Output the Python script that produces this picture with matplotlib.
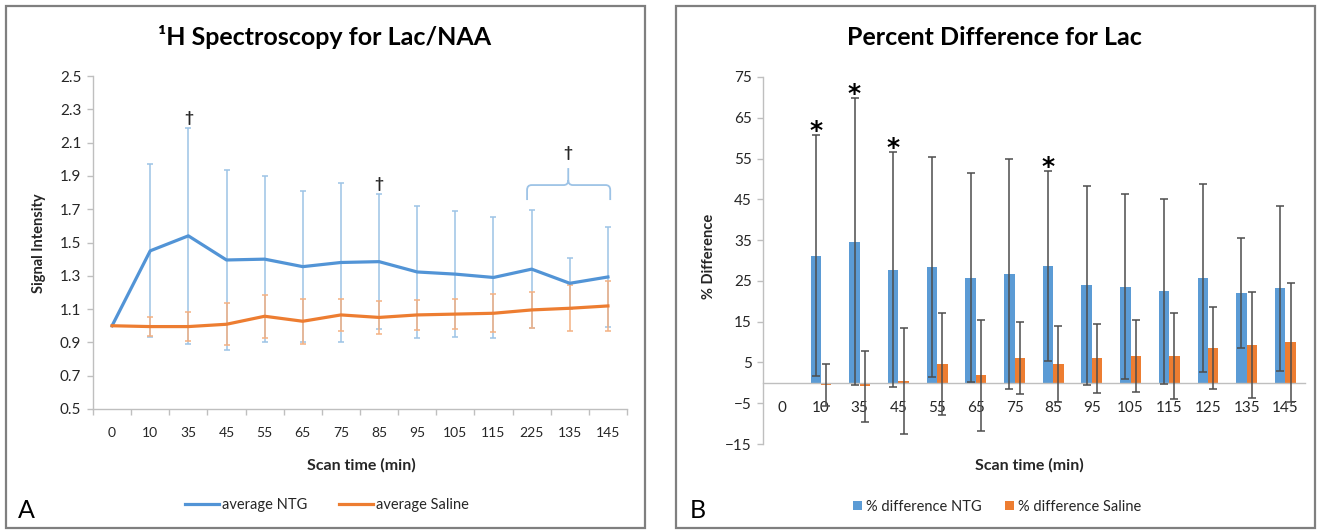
import matplotlib
matplotlib.use("Agg")
import matplotlib.pyplot as plt
import numpy as np
from matplotlib.patches import Rectangle, PathPatch
from matplotlib.path import Path

plt.rcParams['font.family'] = ['Lato', 'DejaVu Sans']

# scan times as printed on each category axis
scan_times_a = ['0', '10', '35', '45', '55', '65', '75', '85', '95', '105', '115', '225', '135', '145']
scan_times_b = ['0', '10', '35', '45', '55', '65', '75', '85', '95', '105', '115', '125', '135', '145']

# Lac/NAA signal intensity (mean and SD)
ntg_avg = [1.0, 1.45, 1.54, 1.395, 1.40, 1.355, 1.38, 1.385, 1.323, 1.31, 1.29, 1.34, 1.255, 1.293]
ntg_sd = [0.0, 0.52, 0.65, 0.54, 0.50, 0.455, 0.48, 0.405, 0.397, 0.38, 0.365, 0.356, 0.152, 0.30]
saline_avg = [1.0, 0.995, 0.995, 1.009, 1.057, 1.027, 1.065, 1.05, 1.065, 1.07, 1.075, 1.095, 1.105, 1.119]
saline_sd = [0.0, 0.055, 0.087, 0.127, 0.13, 0.135, 0.095, 0.098, 0.09, 0.092, 0.113, 0.107, 0.137, 0.15]

# percent difference for Lac (mean and SD)
ntg_pct = [0, 31.2, 34.6, 27.7, 28.5, 25.8, 26.6, 28.7, 23.9, 23.6, 22.4, 25.7, 22.0, 23.2]
ntg_pct_sd = [0, 29.6, 35.2, 28.8, 27.0, 25.7, 28.2, 23.3, 24.4, 22.7, 22.6, 23.0, 13.4, 20.2]
saline_pct = [0, -0.5, -0.8, 0.4, 4.6, 1.8, 6.0, 4.6, 6.0, 6.6, 6.6, 8.5, 9.3, 9.9]
saline_pct_sd = [0, 5.1, 8.7, 13.0, 12.6, 13.6, 8.8, 9.4, 8.4, 8.8, 10.6, 10.0, 12.9, 14.5]

# significance marks
dagger_idx = [2, 7]
star_idx = [1, 2, 3, 7]

BLUE = '#5294D6'
ORANGE = '#ED7D31'
BLUE_ERR = '#9DC3E6'
ORANGE_ERR = '#F4B183'
AXIS = '#BFBFBF'
TXT = '#262626'

W, H = 1321, 531
fig = plt.figure(figsize=(W / 100, H / 100), dpi=100)


def fx(px):
    return px / W


def fy(py):
    return 1 - py / H


# panel frames
for x0, x1 in [(6, 645), (676, 1315)]:
    fig.patches.append(Rectangle((fx(x0), fy(528)), fx(x1 - x0), (528 - 6) / H,
                                 transform=fig.transFigure, fill=False,
                                 edgecolor='#7F7F7F', lw=1.6))

x = np.arange(len(scan_times_a))

# ---------- A: Lac/NAA ----------
ax1 = fig.add_axes([fx(93), fy(409), fx(534), 333 / H])
ax1.errorbar(x[1:], ntg_avg[1:], yerr=ntg_sd[1:], fmt='none', ecolor=BLUE_ERR,
             elinewidth=1.1, capsize=2.5, capthick=1.1, zorder=2)
ax1.errorbar(x[1:], saline_avg[1:], yerr=saline_sd[1:], fmt='none', ecolor=ORANGE_ERR,
             elinewidth=1.1, capsize=2.5, capthick=1.1, zorder=2)
ax1.plot(x, ntg_avg, color=BLUE, lw=2.3, label='average NTG', zorder=3)
ax1.plot(x, saline_avg, color=ORANGE, lw=2.3, label='average Saline', zorder=3)

ax1.set_xlim(-0.5, len(x) - 0.5)
ax1.set_ylim(0.5, 2.5)
ax1.set_yticks(np.arange(0.5, 2.51, 0.2))
ax1.set_yticklabels(['%.1f' % v for v in np.arange(0.5, 2.51, 0.2)])
ax1.set_xticks(x)
ax1.set_xticklabels(scan_times_a)
ax1.set_xticks(np.arange(-0.5, len(x), 1), minor=True)
ax1.tick_params(axis='x', which='major', length=0, pad=13, labelsize=10, labelcolor=TXT)
ax1.tick_params(axis='x', which='minor', length=4.5, width=1, color=AXIS)
ax1.tick_params(axis='y', length=4.5, width=1, color=AXIS, pad=4, labelsize=11, labelcolor=TXT)
for s in ['top', 'right']:
    ax1.spines[s].set_visible(False)
for s in ['left', 'bottom']:
    ax1.spines[s].set_color(AXIS)
    ax1.spines[s].set_linewidth(1)

for i in dagger_idx:
    top = ntg_avg[i] + ntg_sd[i]
    ax1.annotate('\u2020', (x[i], top), xytext=(0, 7), textcoords='offset points',
                 ha='center', va='center', fontsize=11, fontweight='bold', color=TXT)

# brace over the last three time points
x0, x1, xm = 10.88, 13.06, 11.96
yb, yh, yp = 1.755, 1.845, 1.947
rx, ry = 0.12, 0.03
verts = [(x0, yb), (x0, yh - ry), (x0, yh), (x0 + rx, yh), (xm - rx, yh), (xm, yh), (xm, yh + ry), (xm, yp),
         (xm, yh + ry), (xm, yh), (xm + rx, yh), (x1 - rx, yh), (x1, yh), (x1, yh - ry), (x1, yb)]
codes = [Path.MOVETO, Path.LINETO, Path.CURVE3, Path.CURVE3, Path.LINETO, Path.CURVE3, Path.CURVE3, Path.LINETO,
         Path.MOVETO, Path.CURVE3, Path.CURVE3, Path.LINETO, Path.CURVE3, Path.CURVE3, Path.LINETO]
ax1.add_patch(PathPatch(Path(verts, codes), fill=False, edgecolor=BLUE_ERR, lw=1.3))
ax1.text(xm, 2.04, '\u2020', ha='center', va='center', fontsize=11, fontweight='bold', color=TXT)

fig.text(fx(325), fy(37), '\u00b9H Spectroscopy for Lac/NAA', ha='center', va='center',
         fontsize=18, fontweight='bold', color='black')
fig.text(fx(39), fy(243), 'Signal Intensity', rotation=90, ha='center', va='center',
         fontsize=10.5, fontweight='bold', color=TXT)
fig.text(fx(361), fy(465), 'Scan time (min)', ha='center', va='center',
         fontsize=11.5, fontweight='bold', color=TXT)
fig.legend(*ax1.get_legend_handles_labels(), loc='center', bbox_to_anchor=(fx(327), fy(505)),
           ncol=2, frameon=False, fontsize=10.5, handlelength=2.3, handletextpad=0.2,
           columnspacing=2.2, labelcolor=TXT)
fig.text(fx(18), fy(511), 'A', ha='left', va='center', fontsize=18, color='black')

# ---------- B: percent difference ----------
ax2 = fig.add_axes([fx(763), fy(444), fx(541.7), 367 / H])
bw = 0.27
ax2.bar(x - bw / 2, ntg_pct, bw, color='#5B9BD5', label='% difference NTG', zorder=2)
ax2.bar(x + bw / 2, saline_pct, bw, color=ORANGE, label='% difference Saline', zorder=2)
ax2.errorbar(x[1:] - bw / 2, ntg_pct[1:], yerr=ntg_pct_sd[1:], fmt='none', ecolor='#4D4D4D',
             elinewidth=1.1, capsize=2.8, capthick=1.1, zorder=3)
ax2.errorbar(x[1:] + bw / 2, saline_pct[1:], yerr=saline_pct_sd[1:], fmt='none', ecolor='#4D4D4D',
             elinewidth=1.1, capsize=2.8, capthick=1.1, zorder=3)

ax2.set_xlim(-0.5, len(x) - 0.5)
ax2.set_ylim(-15, 75)
ax2.set_yticks(np.arange(-15, 76, 10))
ax2.set_xticks(x)
ax2.set_xticklabels(scan_times_b)
ax2.spines['bottom'].set_position(('data', 0))
for s in ['top', 'right']:
    ax2.spines[s].set_visible(False)
for s in ['left', 'bottom']:
    ax2.spines[s].set_color(AXIS)
    ax2.spines[s].set_linewidth(1)
ax2.tick_params(axis='x', length=0, pad=13, labelsize=11, labelcolor=TXT)
ax2.tick_params(axis='y', length=4, width=1, color=AXIS, pad=4, labelsize=11, labelcolor=TXT)

for i in star_idx:
    top = ntg_pct[i] + ntg_pct_sd[i]
    ax2.annotate('*', (x[i] - bw / 2, top), xytext=(0, -2), textcoords='offset points',
                 ha='center', va='baseline', fontsize=18, fontweight='bold',
                 family='DejaVu Sans', color='black')

fig.text(fx(994), fy(37), 'Percent Difference for Lac', ha='center', va='center',
         fontsize=18, fontweight='bold', color='black')
fig.text(fx(709), fy(256), '% Difference', rotation=90, ha='center', va='center',
         fontsize=10.5, fontweight='bold', color=TXT)
fig.text(fx(1029), fy(465), 'Scan time (min)', ha='center', va='center',
         fontsize=11.5, fontweight='bold', color=TXT)
fig.legend(*ax2.get_legend_handles_labels(), loc='center', bbox_to_anchor=(fx(997), fy(507)),
           ncol=2, frameon=False, fontsize=10.5, handlelength=0.6, handleheight=0.6,
           handletextpad=0.3, columnspacing=1.6, labelcolor=TXT)
fig.text(fx(690), fy(511), 'B', ha='left', va='center', fontsize=18, color='black')

fig.savefig('out.png', dpi=100)
